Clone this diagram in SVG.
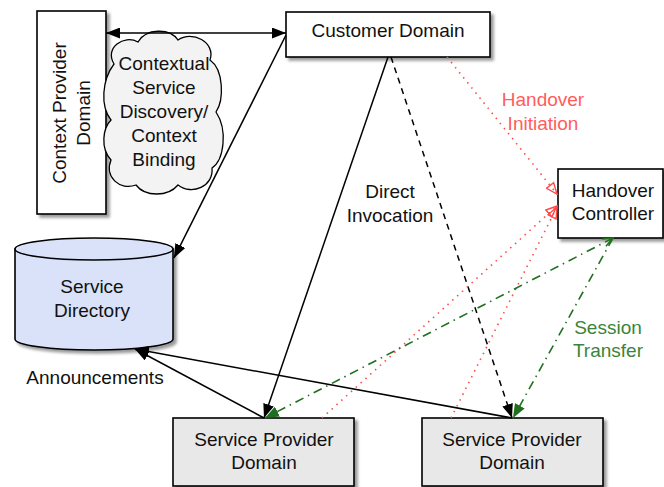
<svg xmlns="http://www.w3.org/2000/svg" width="664" height="487" viewBox="0 0 664 487">
  <style>
    text { font-family: "Liberation Sans", Arial, sans-serif; font-size: 19px; fill: #111; text-anchor: middle; }
    .box { fill: #ffffff; stroke: #000; stroke-width: 1.6; }
    .grey { fill: #e8e8e8; stroke: #000; stroke-width: 1.6; }
    .solid { fill: none; stroke: #000; stroke-width: 1.5; }
    .dash { fill: none; stroke: #000; stroke-width: 1.5; stroke-dasharray: 6 5; }
    .dot { fill: none; stroke: #ff4a4a; stroke-width: 1.6; stroke-dasharray: 1.5 5; }
    .dashdot { fill: none; stroke: #1f6f1f; stroke-width: 1.6; stroke-dasharray: 9 5 1.5 5; }
    .red { fill: #ff5c5c; }
    .green { fill: #3a853a; }
  </style>
  <defs>
    <filter id="shadow" x="-10%" y="-10%" width="130%" height="130%">
      <feGaussianBlur in="SourceAlpha" stdDeviation="1.5"/>
      <feOffset dx="3" dy="3" result="b"/>
      <feComponentTransfer><feFuncA type="linear" slope="0.4"/></feComponentTransfer>
      <feMerge><feMergeNode/><feMergeNode in="SourceGraphic"/></feMerge>
    </filter>
    <marker id="arrow" viewBox="0 0 14 11" refX="14" refY="5.5" markerWidth="14" markerHeight="11" markerUnits="userSpaceOnUse" orient="auto-start-reverse">
      <path d="M0,0 L14,5.5 L0,11 Z" fill="#000"/>
    </marker>
    <marker id="arrowGreen" viewBox="0 0 14 11" refX="14" refY="5.5" markerWidth="14" markerHeight="11" markerUnits="userSpaceOnUse" orient="auto-start-reverse">
      <path d="M0,0 L14,5.5 L0,11 Z" fill="#1f6f1f"/>
    </marker>
    <marker id="openGreen" viewBox="0 0 12 10" refX="11" refY="5" markerWidth="12" markerHeight="10" markerUnits="userSpaceOnUse" orient="auto-start-reverse">
      <path d="M1,1 L11,5 L1,9" fill="none" stroke="#1f6f1f" stroke-width="1.5"/>
    </marker>
    <marker id="openRed" viewBox="0 0 13 11" refX="12" refY="5.5" markerWidth="13" markerHeight="11" markerUnits="userSpaceOnUse" orient="auto">
      <path d="M1,1 L12,5.5 L1,10 Z" fill="none" stroke="#ff4a4a" stroke-width="1.4"/>
    </marker>
  </defs>

  <!-- nodes -->
  <g id="context-provider">
    <rect class="box" x="37" y="11" width="69" height="203" filter="url(#shadow)"/>
    <text transform="translate(66,113) rotate(-90)">Context Provider</text>
    <text transform="translate(90,113) rotate(-90)">Domain</text>
  </g>

  <g id="discovery-cloud">
    <path d="M114 64 C104 48 124 34 138 42 C146 28 170 28 178 40 C192 30 216 42 210 60 C224 70 224 100 216 112 C228 130 224 160 212 168 C214 186 192 196 178 185 C168 197 145 197 136 185 C120 191 104 177 111 160 C100 148 103 128 111 120 C100 106 102 80 114 64 Z" fill="#f3f3f3" stroke="#000" stroke-width="1.3"/>
    <text x="164" y="70">Contextual</text>
    <text x="164" y="94">Service</text>
    <text x="164" y="118">Discovery/</text>
    <text x="164" y="142">Context</text>
    <text x="164" y="166">Binding</text>
  </g>

  <g id="customer-domain">
    <rect class="box" x="286" y="12" width="204" height="45" filter="url(#shadow)"/>
    <text x="388" y="37">Customer Domain</text>
  </g>

  <g id="handover-controller">
    <rect class="box" x="558" y="169" width="105" height="69" filter="url(#shadow)"/>
    <text x="613" y="197">Handover</text>
    <text x="613" y="220">Controller</text>
  </g>

  <g id="service-directory">
    <g filter="url(#shadow)">
      <path d="M15 249 L15 339 A79 11 0 0 0 173 339 L173 249 Z" fill="#d9e2f8" stroke="#000" stroke-width="1.6"/>
      <ellipse cx="94" cy="249" rx="79" ry="11" fill="#d9e2f8" stroke="#000" stroke-width="1.6"/>
    </g>
    <text x="92" y="293">Service</text>
    <text x="92" y="317">Directory</text>
  </g>

  <g id="service-provider-1">
    <rect class="grey" x="173" y="418" width="181" height="68" filter="url(#shadow)"/>
    <text x="264" y="446">Service Provider</text>
    <text x="264" y="469">Domain</text>
  </g>

  <g id="service-provider-2">
    <rect class="grey" x="422" y="418" width="181" height="68" filter="url(#shadow)"/>
    <text x="512" y="446">Service Provider</text>
    <text x="512" y="469">Domain</text>
  </g>

  <!-- connectors -->
  <g id="connectors">
    <line class="solid" x1="106" y1="33" x2="286" y2="33" marker-start="url(#arrow)" marker-end="url(#arrow)"/>
    <line class="solid" x1="286" y1="35" x2="174" y2="258" marker-end="url(#arrow)"/>
    <line class="solid" x1="388" y1="57" x2="264" y2="418" marker-end="url(#arrow)"/>
    <line class="dash" x1="391" y1="57" x2="512" y2="418" marker-end="url(#arrow)"/>
    <line class="solid" x1="264" y1="418" x2="135" y2="349" marker-end="url(#arrow)"/>
    <line class="solid" x1="512" y1="418" x2="135" y2="349" marker-end="url(#arrow)"/>

    <line class="dot" x1="447" y1="57" x2="557" y2="194" marker-end="url(#openRed)"/>
    <line class="dot" x1="322" y1="418" x2="557" y2="206" marker-end="url(#openRed)"/>
    <line class="dot" x1="451" y1="418" x2="557" y2="207" marker-end="url(#openRed)"/>

    <line class="dashdot" x1="613" y1="238" x2="265" y2="418" marker-start="url(#openGreen)" marker-end="url(#arrowGreen)"/>
    <line class="dashdot" x1="613" y1="238" x2="513" y2="418" marker-end="url(#arrowGreen)"/>
  </g>

  <!-- connector labels -->
  <g id="labels">
    <text x="390" y="198">Direct</text>
    <text x="390" y="222">Invocation</text>
    <text class="red" x="543" y="106">Handover</text>
    <text class="red" x="543" y="130">Initiation</text>
    <text class="green" x="608" y="334">Session</text>
    <text class="green" x="608" y="357">Transfer</text>
    <text x="95" y="384">Announcements</text>
  </g>
</svg>
